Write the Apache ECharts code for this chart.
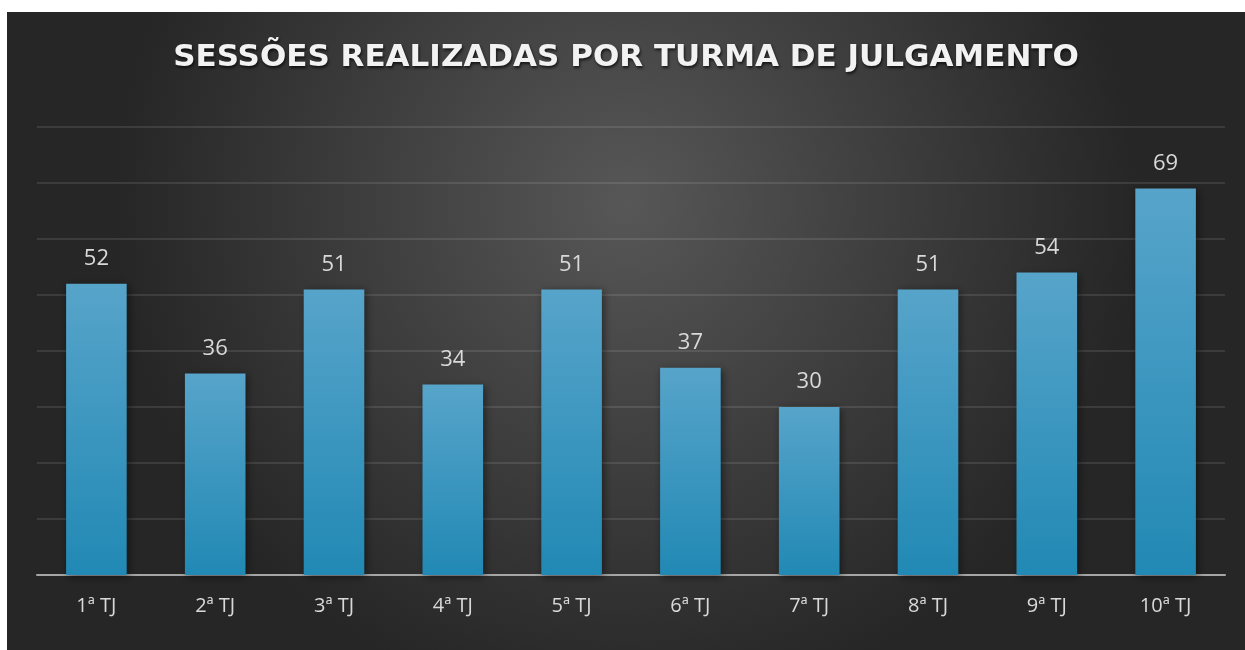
<!DOCTYPE html>
<html>
<head>
<meta charset="utf-8">
<script src="https://cdn.jsdelivr.net/npm/echarts@6/dist/echarts.min.js"></script>
<style>
  html, body { margin: 0; padding: 0; background: #ffffff; }
  #main { position: absolute; left: 7px; top: 12px; width: 1238px; height: 638px; }
</style>
</head>
<body>
<div id="main"></div>
<script>
// chart data
const titleText = "SESSÕES REALIZADAS POR TURMA DE JULGAMENTO";
const categories = ["1ª TJ", "2ª TJ", "3ª TJ", "4ª TJ", "5ª TJ", "6ª TJ", "7ª TJ", "8ª TJ", "9ª TJ", "10ª TJ"];
const sessions = [52, 36, 51, 34, 51, 37, 30, 51, 54, 69];

const myChart = echarts.init(document.getElementById("main"));

const option = {
  animation: false,
  backgroundColor: {
    type: "radial",
    x: 0.5,
    y: 0.3,
    r: 0.8,
    colorStops: [
      { offset: 0, color: "#575757" },
      { offset: 1, color: "#262626" },
    ],
  },
  title: {
    text: titleText,
    left: "center",
    top: 25,
    textStyle: {
      color: "#f2f2f2",
      fontFamily: "DejaVu Sans",
      fontWeight: "bold",
      fontSize: 31,
      textShadowColor: "rgba(0,0,0,0.7)",
      textShadowBlur: 3,
      textShadowOffsetX: 1,
      textShadowOffsetY: 2,
    },
  },
  grid: {
    left: 30,
    right: 20,
    top: 115,
    bottom: 75,
  },
  xAxis: {
    type: "category",
    data: categories,
    axisTick: { show: false },
    axisLine: { lineStyle: { color: "#a6a6a6", width: 2 } },
    axisLabel: {
      color: "#d9d9d9",
      fontFamily: "Open Sans",
      fontSize: 20,
      margin: 21,
    },
  },
  yAxis: {
    type: "value",
    min: 0,
    max: 80,
    interval: 10,
    axisLabel: { show: false },
    axisLine: { show: false },
    axisTick: { show: false },
    splitLine: { lineStyle: { color: "rgba(255,255,255,0.1)", width: 2 } },
  },
  series: [
    {
      type: "bar",
      data: sessions,
      barWidth: "51%",
      itemStyle: {
        color: {
          type: "linear",
          x: 0, y: 0, x2: 0, y2: 1,
          colorStops: [
            { offset: 0, color: "#57a4ca" },
            { offset: 1, color: "#2189b4" },
          ],
        },
        shadowColor: "rgba(0,0,0,0.5)",
        shadowBlur: 8,
        shadowOffsetX: 2,
        shadowOffsetY: 2,
      },
      label: {
        show: true,
        position: "top",
        distance: 14,
        color: "#d9d9d9",
        fontFamily: "Open Sans",
        fontSize: 22,
      },
    },
  ],
};

myChart.setOption(option);
</script>
</body>
</html>
